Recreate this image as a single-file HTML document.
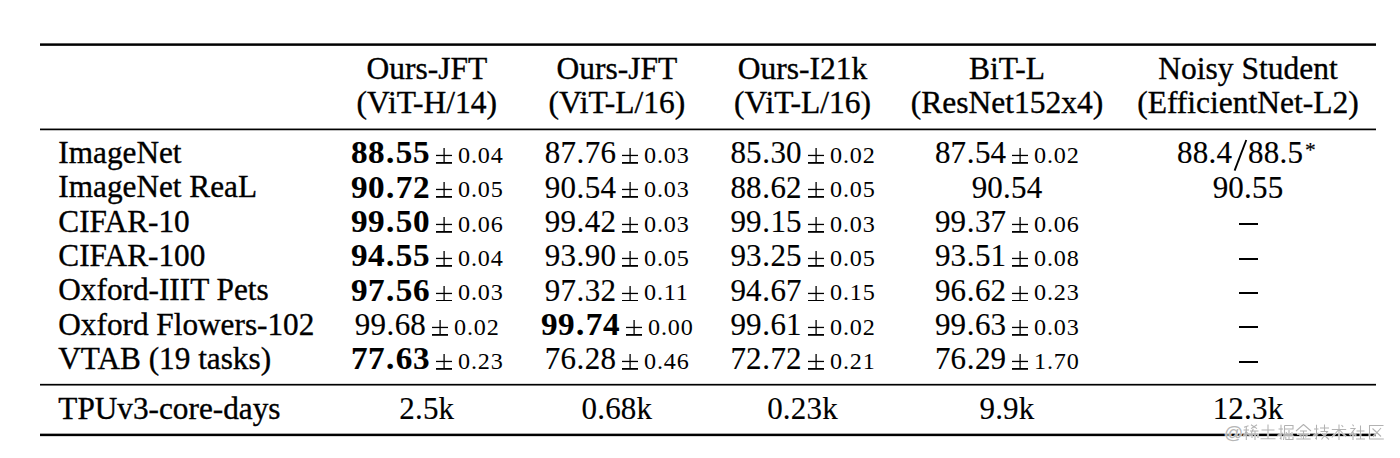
<!DOCTYPE html>
<html><head><meta charset="utf-8"><style>
html,body{margin:0;padding:0;background:#fff;}
body{width:1400px;height:458px;position:relative;overflow:hidden;font-family:"Liberation Serif",serif;color:#000;}
.t{position:absolute;line-height:1;white-space:nowrap;-webkit-text-stroke:0.35px #000;}
.num,.cell{-webkit-text-stroke:0.15px #000;}
.sm{-webkit-text-stroke:0.0px #000;}
.b{-webkit-text-stroke:0.1px #000;}
.cell{width:600px;text-align:center;}
.pm{fill:#000;}
.b{font-weight:bold;}
.dash{position:absolute;width:19px;height:2px;background:#000;}
.rule{position:absolute;left:40px;width:1336px;background:#000;}
</style></head><body>
<div class="t " style="left:126.80px;width:600px;text-align:center;top:53.22px;font-size:31.5px;">Ours-JFT</div>
<div class="t " style="left:126.80px;width:600px;text-align:center;top:87.12px;font-size:31.5px;">(ViT-H/14)</div>
<div class="t " style="left:316.90px;width:600px;text-align:center;top:53.22px;font-size:31.5px;">Ours-JFT</div>
<div class="t " style="left:316.90px;width:600px;text-align:center;top:87.12px;font-size:31.5px;">(ViT-L/16)</div>
<div class="t " style="left:502.50px;width:600px;text-align:center;top:53.22px;font-size:31.5px;">Ours-I21k</div>
<div class="t " style="left:502.50px;width:600px;text-align:center;top:87.12px;font-size:31.5px;">(ViT-L/16)</div>
<div class="t " style="left:707.00px;width:600px;text-align:center;top:53.22px;font-size:31.5px;">BiT-L</div>
<div class="t " style="left:707.00px;width:600px;text-align:center;top:87.12px;font-size:31.5px;">(ResNet152x4)</div>
<div class="t " style="left:948.00px;width:600px;text-align:center;top:53.22px;font-size:31.5px;">Noisy Student</div>
<div class="t " style="left:948.00px;width:600px;text-align:center;top:87.12px;font-size:31.5px;">(EfficientNet-L2)</div>
<div class="t " style="left:58.30px;top:137.03px;font-size:31.25px;">ImageNet</div>
<div class="t num b" style="left:350.57px;top:137.24px;font-size:31.0px;letter-spacing:0.5px;transform:scaleX(1.07);transform-origin:0 0">88<span style="margin:0 0.8px">.</span>55</div>
<svg class="pm" width="16.2" height="15.8" style="position:absolute;left:436.05px;top:148.10px"><rect x="7.45" y="0" width="1.3" height="14.80"/><rect x="0" y="6.80" width="16.2" height="1.3"/><rect x="0" y="14.00" width="16.2" height="1.8"/></svg>
<div class="t sm" style="left:458.25px;top:143.94px;font-size:23.0px;letter-spacing:0.8px;transform:scaleX(1.05);transform-origin:0 0">0.04</div>
<div class="t num" style="left:544.83px;top:137.24px;font-size:31.0px;letter-spacing:0.2px;transform:scaleX(1.0);transform-origin:0 0">87<span style="margin:0 0.3px">.</span>76</div>
<svg class="pm" width="16.2" height="15.8" style="position:absolute;left:621.98px;top:148.10px"><rect x="7.45" y="0" width="1.3" height="14.80"/><rect x="0" y="6.80" width="16.2" height="1.3"/><rect x="0" y="14.00" width="16.2" height="1.8"/></svg>
<div class="t sm" style="left:644.18px;top:143.94px;font-size:23.0px;letter-spacing:0.8px;transform:scaleX(1.05);transform-origin:0 0">0.03</div>
<div class="t num" style="left:730.43px;top:137.24px;font-size:31.0px;letter-spacing:0.2px;transform:scaleX(1.0);transform-origin:0 0">85<span style="margin:0 0.3px">.</span>30</div>
<svg class="pm" width="16.2" height="15.8" style="position:absolute;left:807.58px;top:148.10px"><rect x="7.45" y="0" width="1.3" height="14.80"/><rect x="0" y="6.80" width="16.2" height="1.3"/><rect x="0" y="14.00" width="16.2" height="1.8"/></svg>
<div class="t sm" style="left:829.78px;top:143.94px;font-size:23.0px;letter-spacing:0.8px;transform:scaleX(1.05);transform-origin:0 0">0.02</div>
<div class="t num" style="left:934.93px;top:137.24px;font-size:31.0px;letter-spacing:0.2px;transform:scaleX(1.0);transform-origin:0 0">87<span style="margin:0 0.3px">.</span>54</div>
<svg class="pm" width="16.2" height="15.8" style="position:absolute;left:1012.08px;top:148.10px"><rect x="7.45" y="0" width="1.3" height="14.80"/><rect x="0" y="6.80" width="16.2" height="1.3"/><rect x="0" y="14.00" width="16.2" height="1.8"/></svg>
<div class="t sm" style="left:1034.28px;top:143.94px;font-size:23.0px;letter-spacing:0.8px;transform:scaleX(1.05);transform-origin:0 0">0.02</div>
<div class="t num" style="left:1177.06px;top:137.24px;font-size:31.0px;letter-spacing:0.2px">88.4</div>
<div class="t num" style="left:1248.06px;top:137.24px;font-size:31.0px;letter-spacing:0.2px">88.5</div>
<svg style="position:absolute;left:0;top:0" width="1400" height="458"><line x1="1246.3" y1="140" x2="1234.6" y2="170.6" stroke="#000" stroke-width="1.9"/></svg>
<div class="t num" style="left:1305.00px;top:139.59px;font-size:21.5px;">*</div>
<div class="t " style="left:58.30px;top:171.38px;font-size:31.25px;">ImageNet ReaL</div>
<div class="t num b" style="left:350.57px;top:171.59px;font-size:31.0px;letter-spacing:0.5px;transform:scaleX(1.07);transform-origin:0 0">90<span style="margin:0 0.8px">.</span>72</div>
<svg class="pm" width="16.2" height="15.8" style="position:absolute;left:436.05px;top:182.45px"><rect x="7.45" y="0" width="1.3" height="14.80"/><rect x="0" y="6.80" width="16.2" height="1.3"/><rect x="0" y="14.00" width="16.2" height="1.8"/></svg>
<div class="t sm" style="left:458.25px;top:178.29px;font-size:23.0px;letter-spacing:0.8px;transform:scaleX(1.05);transform-origin:0 0">0.05</div>
<div class="t num" style="left:544.83px;top:171.59px;font-size:31.0px;letter-spacing:0.2px;transform:scaleX(1.0);transform-origin:0 0">90<span style="margin:0 0.3px">.</span>54</div>
<svg class="pm" width="16.2" height="15.8" style="position:absolute;left:621.98px;top:182.45px"><rect x="7.45" y="0" width="1.3" height="14.80"/><rect x="0" y="6.80" width="16.2" height="1.3"/><rect x="0" y="14.00" width="16.2" height="1.8"/></svg>
<div class="t sm" style="left:644.18px;top:178.29px;font-size:23.0px;letter-spacing:0.8px;transform:scaleX(1.05);transform-origin:0 0">0.03</div>
<div class="t num" style="left:730.43px;top:171.59px;font-size:31.0px;letter-spacing:0.2px;transform:scaleX(1.0);transform-origin:0 0">88<span style="margin:0 0.3px">.</span>62</div>
<svg class="pm" width="16.2" height="15.8" style="position:absolute;left:807.58px;top:182.45px"><rect x="7.45" y="0" width="1.3" height="14.80"/><rect x="0" y="6.80" width="16.2" height="1.3"/><rect x="0" y="14.00" width="16.2" height="1.8"/></svg>
<div class="t sm" style="left:829.78px;top:178.29px;font-size:23.0px;letter-spacing:0.8px;transform:scaleX(1.05);transform-origin:0 0">0.05</div>
<div class="t num" style="left:707.00px;width:600px;text-align:center;top:171.59px;font-size:31.0px;letter-spacing:0.2px">90.54</div>
<div class="t num" style="left:948.00px;width:600px;text-align:center;top:171.59px;font-size:31.0px;letter-spacing:0.2px">90.55</div>
<div class="t " style="left:58.30px;top:205.73px;font-size:31.25px;">CIFAR-10</div>
<div class="t num b" style="left:350.57px;top:205.94px;font-size:31.0px;letter-spacing:0.5px;transform:scaleX(1.07);transform-origin:0 0">99<span style="margin:0 0.8px">.</span>50</div>
<svg class="pm" width="16.2" height="15.8" style="position:absolute;left:436.05px;top:216.80px"><rect x="7.45" y="0" width="1.3" height="14.80"/><rect x="0" y="6.80" width="16.2" height="1.3"/><rect x="0" y="14.00" width="16.2" height="1.8"/></svg>
<div class="t sm" style="left:458.25px;top:212.64px;font-size:23.0px;letter-spacing:0.8px;transform:scaleX(1.05);transform-origin:0 0">0.06</div>
<div class="t num" style="left:544.83px;top:205.94px;font-size:31.0px;letter-spacing:0.2px;transform:scaleX(1.0);transform-origin:0 0">99<span style="margin:0 0.3px">.</span>42</div>
<svg class="pm" width="16.2" height="15.8" style="position:absolute;left:621.98px;top:216.80px"><rect x="7.45" y="0" width="1.3" height="14.80"/><rect x="0" y="6.80" width="16.2" height="1.3"/><rect x="0" y="14.00" width="16.2" height="1.8"/></svg>
<div class="t sm" style="left:644.18px;top:212.64px;font-size:23.0px;letter-spacing:0.8px;transform:scaleX(1.05);transform-origin:0 0">0.03</div>
<div class="t num" style="left:730.43px;top:205.94px;font-size:31.0px;letter-spacing:0.2px;transform:scaleX(1.0);transform-origin:0 0">99<span style="margin:0 0.3px">.</span>15</div>
<svg class="pm" width="16.2" height="15.8" style="position:absolute;left:807.58px;top:216.80px"><rect x="7.45" y="0" width="1.3" height="14.80"/><rect x="0" y="6.80" width="16.2" height="1.3"/><rect x="0" y="14.00" width="16.2" height="1.8"/></svg>
<div class="t sm" style="left:829.78px;top:212.64px;font-size:23.0px;letter-spacing:0.8px;transform:scaleX(1.05);transform-origin:0 0">0.03</div>
<div class="t num" style="left:934.93px;top:205.94px;font-size:31.0px;letter-spacing:0.2px;transform:scaleX(1.0);transform-origin:0 0">99<span style="margin:0 0.3px">.</span>37</div>
<svg class="pm" width="16.2" height="15.8" style="position:absolute;left:1012.08px;top:216.80px"><rect x="7.45" y="0" width="1.3" height="14.80"/><rect x="0" y="6.80" width="16.2" height="1.3"/><rect x="0" y="14.00" width="16.2" height="1.8"/></svg>
<div class="t sm" style="left:1034.28px;top:212.64px;font-size:23.0px;letter-spacing:0.8px;transform:scaleX(1.05);transform-origin:0 0">0.06</div>
<div class="dash" style="left:1238.50px;top:223.30px"></div>
<div class="t " style="left:58.30px;top:240.08px;font-size:31.25px;">CIFAR-100</div>
<div class="t num b" style="left:350.57px;top:240.29px;font-size:31.0px;letter-spacing:0.5px;transform:scaleX(1.07);transform-origin:0 0">94<span style="margin:0 0.8px">.</span>55</div>
<svg class="pm" width="16.2" height="15.8" style="position:absolute;left:436.05px;top:251.15px"><rect x="7.45" y="0" width="1.3" height="14.80"/><rect x="0" y="6.80" width="16.2" height="1.3"/><rect x="0" y="14.00" width="16.2" height="1.8"/></svg>
<div class="t sm" style="left:458.25px;top:246.99px;font-size:23.0px;letter-spacing:0.8px;transform:scaleX(1.05);transform-origin:0 0">0.04</div>
<div class="t num" style="left:544.83px;top:240.29px;font-size:31.0px;letter-spacing:0.2px;transform:scaleX(1.0);transform-origin:0 0">93<span style="margin:0 0.3px">.</span>90</div>
<svg class="pm" width="16.2" height="15.8" style="position:absolute;left:621.98px;top:251.15px"><rect x="7.45" y="0" width="1.3" height="14.80"/><rect x="0" y="6.80" width="16.2" height="1.3"/><rect x="0" y="14.00" width="16.2" height="1.8"/></svg>
<div class="t sm" style="left:644.18px;top:246.99px;font-size:23.0px;letter-spacing:0.8px;transform:scaleX(1.05);transform-origin:0 0">0.05</div>
<div class="t num" style="left:730.43px;top:240.29px;font-size:31.0px;letter-spacing:0.2px;transform:scaleX(1.0);transform-origin:0 0">93<span style="margin:0 0.3px">.</span>25</div>
<svg class="pm" width="16.2" height="15.8" style="position:absolute;left:807.58px;top:251.15px"><rect x="7.45" y="0" width="1.3" height="14.80"/><rect x="0" y="6.80" width="16.2" height="1.3"/><rect x="0" y="14.00" width="16.2" height="1.8"/></svg>
<div class="t sm" style="left:829.78px;top:246.99px;font-size:23.0px;letter-spacing:0.8px;transform:scaleX(1.05);transform-origin:0 0">0.05</div>
<div class="t num" style="left:934.93px;top:240.29px;font-size:31.0px;letter-spacing:0.2px;transform:scaleX(1.0);transform-origin:0 0">93<span style="margin:0 0.3px">.</span>51</div>
<svg class="pm" width="16.2" height="15.8" style="position:absolute;left:1012.08px;top:251.15px"><rect x="7.45" y="0" width="1.3" height="14.80"/><rect x="0" y="6.80" width="16.2" height="1.3"/><rect x="0" y="14.00" width="16.2" height="1.8"/></svg>
<div class="t sm" style="left:1034.28px;top:246.99px;font-size:23.0px;letter-spacing:0.8px;transform:scaleX(1.05);transform-origin:0 0">0.08</div>
<div class="dash" style="left:1238.50px;top:257.65px"></div>
<div class="t " style="left:58.30px;top:274.43px;font-size:31.25px;">Oxford-IIIT Pets</div>
<div class="t num b" style="left:350.57px;top:274.64px;font-size:31.0px;letter-spacing:0.5px;transform:scaleX(1.07);transform-origin:0 0">97<span style="margin:0 0.8px">.</span>56</div>
<svg class="pm" width="16.2" height="15.8" style="position:absolute;left:436.05px;top:285.50px"><rect x="7.45" y="0" width="1.3" height="14.80"/><rect x="0" y="6.80" width="16.2" height="1.3"/><rect x="0" y="14.00" width="16.2" height="1.8"/></svg>
<div class="t sm" style="left:458.25px;top:281.34px;font-size:23.0px;letter-spacing:0.8px;transform:scaleX(1.05);transform-origin:0 0">0.03</div>
<div class="t num" style="left:544.83px;top:274.64px;font-size:31.0px;letter-spacing:0.2px;transform:scaleX(1.0);transform-origin:0 0">97<span style="margin:0 0.3px">.</span>32</div>
<svg class="pm" width="16.2" height="15.8" style="position:absolute;left:621.98px;top:285.50px"><rect x="7.45" y="0" width="1.3" height="14.80"/><rect x="0" y="6.80" width="16.2" height="1.3"/><rect x="0" y="14.00" width="16.2" height="1.8"/></svg>
<div class="t sm" style="left:644.18px;top:281.34px;font-size:23.0px;letter-spacing:0.8px;transform:scaleX(1.05);transform-origin:0 0">0.11</div>
<div class="t num" style="left:730.43px;top:274.64px;font-size:31.0px;letter-spacing:0.2px;transform:scaleX(1.0);transform-origin:0 0">94<span style="margin:0 0.3px">.</span>67</div>
<svg class="pm" width="16.2" height="15.8" style="position:absolute;left:807.58px;top:285.50px"><rect x="7.45" y="0" width="1.3" height="14.80"/><rect x="0" y="6.80" width="16.2" height="1.3"/><rect x="0" y="14.00" width="16.2" height="1.8"/></svg>
<div class="t sm" style="left:829.78px;top:281.34px;font-size:23.0px;letter-spacing:0.8px;transform:scaleX(1.05);transform-origin:0 0">0.15</div>
<div class="t num" style="left:934.93px;top:274.64px;font-size:31.0px;letter-spacing:0.2px;transform:scaleX(1.0);transform-origin:0 0">96<span style="margin:0 0.3px">.</span>62</div>
<svg class="pm" width="16.2" height="15.8" style="position:absolute;left:1012.08px;top:285.50px"><rect x="7.45" y="0" width="1.3" height="14.80"/><rect x="0" y="6.80" width="16.2" height="1.3"/><rect x="0" y="14.00" width="16.2" height="1.8"/></svg>
<div class="t sm" style="left:1034.28px;top:281.34px;font-size:23.0px;letter-spacing:0.8px;transform:scaleX(1.05);transform-origin:0 0">0.23</div>
<div class="dash" style="left:1238.50px;top:292.00px"></div>
<div class="t " style="left:58.30px;top:308.78px;font-size:31.25px;">Oxford Flowers-102</div>
<div class="t num" style="left:354.73px;top:308.99px;font-size:31.0px;letter-spacing:0.2px;transform:scaleX(1.0);transform-origin:0 0">99<span style="margin:0 0.3px">.</span>68</div>
<svg class="pm" width="16.2" height="15.8" style="position:absolute;left:431.88px;top:319.85px"><rect x="7.45" y="0" width="1.3" height="14.80"/><rect x="0" y="6.80" width="16.2" height="1.3"/><rect x="0" y="14.00" width="16.2" height="1.8"/></svg>
<div class="t sm" style="left:454.08px;top:315.69px;font-size:23.0px;letter-spacing:0.8px;transform:scaleX(1.05);transform-origin:0 0">0.02</div>
<div class="t num b" style="left:540.67px;top:308.99px;font-size:31.0px;letter-spacing:0.5px;transform:scaleX(1.07);transform-origin:0 0">99<span style="margin:0 0.8px">.</span>74</div>
<svg class="pm" width="16.2" height="15.8" style="position:absolute;left:626.15px;top:319.85px"><rect x="7.45" y="0" width="1.3" height="14.80"/><rect x="0" y="6.80" width="16.2" height="1.3"/><rect x="0" y="14.00" width="16.2" height="1.8"/></svg>
<div class="t sm" style="left:648.35px;top:315.69px;font-size:23.0px;letter-spacing:0.8px;transform:scaleX(1.05);transform-origin:0 0">0.00</div>
<div class="t num" style="left:730.43px;top:308.99px;font-size:31.0px;letter-spacing:0.2px;transform:scaleX(1.0);transform-origin:0 0">99<span style="margin:0 0.3px">.</span>61</div>
<svg class="pm" width="16.2" height="15.8" style="position:absolute;left:807.58px;top:319.85px"><rect x="7.45" y="0" width="1.3" height="14.80"/><rect x="0" y="6.80" width="16.2" height="1.3"/><rect x="0" y="14.00" width="16.2" height="1.8"/></svg>
<div class="t sm" style="left:829.78px;top:315.69px;font-size:23.0px;letter-spacing:0.8px;transform:scaleX(1.05);transform-origin:0 0">0.02</div>
<div class="t num" style="left:934.93px;top:308.99px;font-size:31.0px;letter-spacing:0.2px;transform:scaleX(1.0);transform-origin:0 0">99<span style="margin:0 0.3px">.</span>63</div>
<svg class="pm" width="16.2" height="15.8" style="position:absolute;left:1012.08px;top:319.85px"><rect x="7.45" y="0" width="1.3" height="14.80"/><rect x="0" y="6.80" width="16.2" height="1.3"/><rect x="0" y="14.00" width="16.2" height="1.8"/></svg>
<div class="t sm" style="left:1034.28px;top:315.69px;font-size:23.0px;letter-spacing:0.8px;transform:scaleX(1.05);transform-origin:0 0">0.03</div>
<div class="dash" style="left:1238.50px;top:326.35px"></div>
<div class="t " style="left:58.30px;top:343.13px;font-size:31.25px;">VTAB (19 tasks)</div>
<div class="t num b" style="left:350.57px;top:343.34px;font-size:31.0px;letter-spacing:0.5px;transform:scaleX(1.07);transform-origin:0 0">77<span style="margin:0 0.8px">.</span>63</div>
<svg class="pm" width="16.2" height="15.8" style="position:absolute;left:436.05px;top:354.20px"><rect x="7.45" y="0" width="1.3" height="14.80"/><rect x="0" y="6.80" width="16.2" height="1.3"/><rect x="0" y="14.00" width="16.2" height="1.8"/></svg>
<div class="t sm" style="left:458.25px;top:350.04px;font-size:23.0px;letter-spacing:0.8px;transform:scaleX(1.05);transform-origin:0 0">0.23</div>
<div class="t num" style="left:544.83px;top:343.34px;font-size:31.0px;letter-spacing:0.2px;transform:scaleX(1.0);transform-origin:0 0">76<span style="margin:0 0.3px">.</span>28</div>
<svg class="pm" width="16.2" height="15.8" style="position:absolute;left:621.98px;top:354.20px"><rect x="7.45" y="0" width="1.3" height="14.80"/><rect x="0" y="6.80" width="16.2" height="1.3"/><rect x="0" y="14.00" width="16.2" height="1.8"/></svg>
<div class="t sm" style="left:644.18px;top:350.04px;font-size:23.0px;letter-spacing:0.8px;transform:scaleX(1.05);transform-origin:0 0">0.46</div>
<div class="t num" style="left:730.43px;top:343.34px;font-size:31.0px;letter-spacing:0.2px;transform:scaleX(1.0);transform-origin:0 0">72<span style="margin:0 0.3px">.</span>72</div>
<svg class="pm" width="16.2" height="15.8" style="position:absolute;left:807.58px;top:354.20px"><rect x="7.45" y="0" width="1.3" height="14.80"/><rect x="0" y="6.80" width="16.2" height="1.3"/><rect x="0" y="14.00" width="16.2" height="1.8"/></svg>
<div class="t sm" style="left:829.78px;top:350.04px;font-size:23.0px;letter-spacing:0.8px;transform:scaleX(1.05);transform-origin:0 0">0.21</div>
<div class="t num" style="left:934.93px;top:343.34px;font-size:31.0px;letter-spacing:0.2px;transform:scaleX(1.0);transform-origin:0 0">76<span style="margin:0 0.3px">.</span>29</div>
<svg class="pm" width="16.2" height="15.8" style="position:absolute;left:1012.08px;top:354.20px"><rect x="7.45" y="0" width="1.3" height="14.80"/><rect x="0" y="6.80" width="16.2" height="1.3"/><rect x="0" y="14.00" width="16.2" height="1.8"/></svg>
<div class="t sm" style="left:1034.28px;top:350.04px;font-size:23.0px;letter-spacing:0.8px;transform:scaleX(1.05);transform-origin:0 0">1.70</div>
<div class="dash" style="left:1238.50px;top:360.70px"></div>
<div class="t " style="left:58.30px;top:392.63px;font-size:31.25px;">TPUv3-core-days</div>
<div class="t num" style="left:126.80px;width:600px;text-align:center;top:392.84px;font-size:31.0px;letter-spacing:0.2px">2.5k</div>
<div class="t num" style="left:316.90px;width:600px;text-align:center;top:392.84px;font-size:31.0px;letter-spacing:0.2px">0.68k</div>
<div class="t num" style="left:502.50px;width:600px;text-align:center;top:392.84px;font-size:31.0px;letter-spacing:0.2px">0.23k</div>
<div class="t num" style="left:707.00px;width:600px;text-align:center;top:392.84px;font-size:31.0px;letter-spacing:0.2px">9.9k</div>
<div class="t num" style="left:948.00px;width:600px;text-align:center;top:392.84px;font-size:31.0px;letter-spacing:0.2px">12.3k</div>
<svg style="position:absolute;left:0;top:0" width="1400" height="458" shape-rendering="geometricPrecision"><g fill="#000"><rect x="40" y="43.35" width="1336" height="2.5"/><rect x="40" y="128.55" width="1336" height="1.7"/><rect x="40" y="383.85" width="1336" height="1.7"/><rect x="40" y="433.65" width="1336" height="2.5"/></g></svg>
<svg class="wm" width="1400" height="458" style="position:absolute;left:0;top:0"><g fill="none" stroke="#fff" stroke-width="2.2" stroke-linecap="square" opacity="0.7"><path transform="translate(1243,424)" d="M1,3.2L5.5,1.8 M0.5,6L6,6 M3.3,2.3L3.3,16 M3.2,7L0.6,12.5 M3.6,8L6,10.5 M8,0.8L14,4.6 M14,0.8L8,4.6 M7,7L15.5,7 M10.3,4.8L7.3,11.5 M9,10L15,10L15,14 M9,10L9,14 M12,7.5L12,16"/><path transform="translate(1260,424)" d="M1.5,6L14.5,6 M8,0.5L8,14.8 M0.5,14.8L15.5,14.8"/><path transform="translate(1278,424)" d="M0.5,5L5,5 M3,0.8L3,15 L1.8,14 M0.5,11.5L5,9 M6.5,1.5L15,1.5L15,5L6.5,5 M6.5,1.5L6.5,10L5.5,16 M11,6L11,15.5 M8.3,8L8.3,11L14,11L14,8 M7.8,12.5L7.8,15.5L15,15.5L15,12.5"/><path transform="translate(1295.5,424)" d="M8,0.5L0.5,7 M8,0.5L15.5,7 M4.5,7L11.5,7 M2.5,10L13.5,10 M8,7L8,15 M5,11.5L6,13.5 M11,11.5L10,13.5 M0.8,15L15.2,15"/><path transform="translate(1313.5,424)" d="M0.5,5L5,5 M3,0.8L3,15L1.8,14 M0.5,11.5L5,9 M6.5,4L15.5,4 M11,0.5L11,7 M7,7.5L14,7.5L8,15.5 M8.8,9.5L15.5,15.5"/><path transform="translate(1331,424)" d="M0.8,5.5L15.2,5.5 M8,0.5L8,16 M7.8,5.5L0.8,13.5 M8.2,5.5L15.2,13 M10.5,1.2L12.2,3"/><path transform="translate(1349.5,424)" d="M3,0.5L4.2,2.2 M0.8,4.5L5.5,4.5L0.8,10.5 M3.5,7.5L3.5,16 M4,9L6,11 M7,7L15,7 M11,1.5L11,15 M6.5,15L15.5,15"/><path transform="translate(1368,424)" d="M15.5,1.5L1.5,1.5L1.5,15L15.8,15 M4.5,4.5L13,12.5 M13,4L5,13"/></g><text x="1224" y="439" font-family="Liberation Sans" font-size="19" fill="none" stroke="#fff" stroke-width="1.6" opacity="0.7">@</text><g fill="none" stroke="#b2b2b2" stroke-width="1.05" stroke-linecap="butt"><path transform="translate(1243,424)" d="M1,3.2L5.5,1.8 M0.5,6L6,6 M3.3,2.3L3.3,16 M3.2,7L0.6,12.5 M3.6,8L6,10.5 M8,0.8L14,4.6 M14,0.8L8,4.6 M7,7L15.5,7 M10.3,4.8L7.3,11.5 M9,10L15,10L15,14 M9,10L9,14 M12,7.5L12,16"/><path transform="translate(1260,424)" d="M1.5,6L14.5,6 M8,0.5L8,14.8 M0.5,14.8L15.5,14.8"/><path transform="translate(1278,424)" d="M0.5,5L5,5 M3,0.8L3,15 L1.8,14 M0.5,11.5L5,9 M6.5,1.5L15,1.5L15,5L6.5,5 M6.5,1.5L6.5,10L5.5,16 M11,6L11,15.5 M8.3,8L8.3,11L14,11L14,8 M7.8,12.5L7.8,15.5L15,15.5L15,12.5"/><path transform="translate(1295.5,424)" d="M8,0.5L0.5,7 M8,0.5L15.5,7 M4.5,7L11.5,7 M2.5,10L13.5,10 M8,7L8,15 M5,11.5L6,13.5 M11,11.5L10,13.5 M0.8,15L15.2,15"/><path transform="translate(1313.5,424)" d="M0.5,5L5,5 M3,0.8L3,15L1.8,14 M0.5,11.5L5,9 M6.5,4L15.5,4 M11,0.5L11,7 M7,7.5L14,7.5L8,15.5 M8.8,9.5L15.5,15.5"/><path transform="translate(1331,424)" d="M0.8,5.5L15.2,5.5 M8,0.5L8,16 M7.8,5.5L0.8,13.5 M8.2,5.5L15.2,13 M10.5,1.2L12.2,3"/><path transform="translate(1349.5,424)" d="M3,0.5L4.2,2.2 M0.8,4.5L5.5,4.5L0.8,10.5 M3.5,7.5L3.5,16 M4,9L6,11 M7,7L15,7 M11,1.5L11,15 M6.5,15L15.5,15"/><path transform="translate(1368,424)" d="M15.5,1.5L1.5,1.5L1.5,15L15.8,15 M4.5,4.5L13,12.5 M13,4L5,13"/></g><text x="1224" y="439" font-family="Liberation Sans" font-size="19" fill="#b6b6b6">@</text></svg>
</body></html>
